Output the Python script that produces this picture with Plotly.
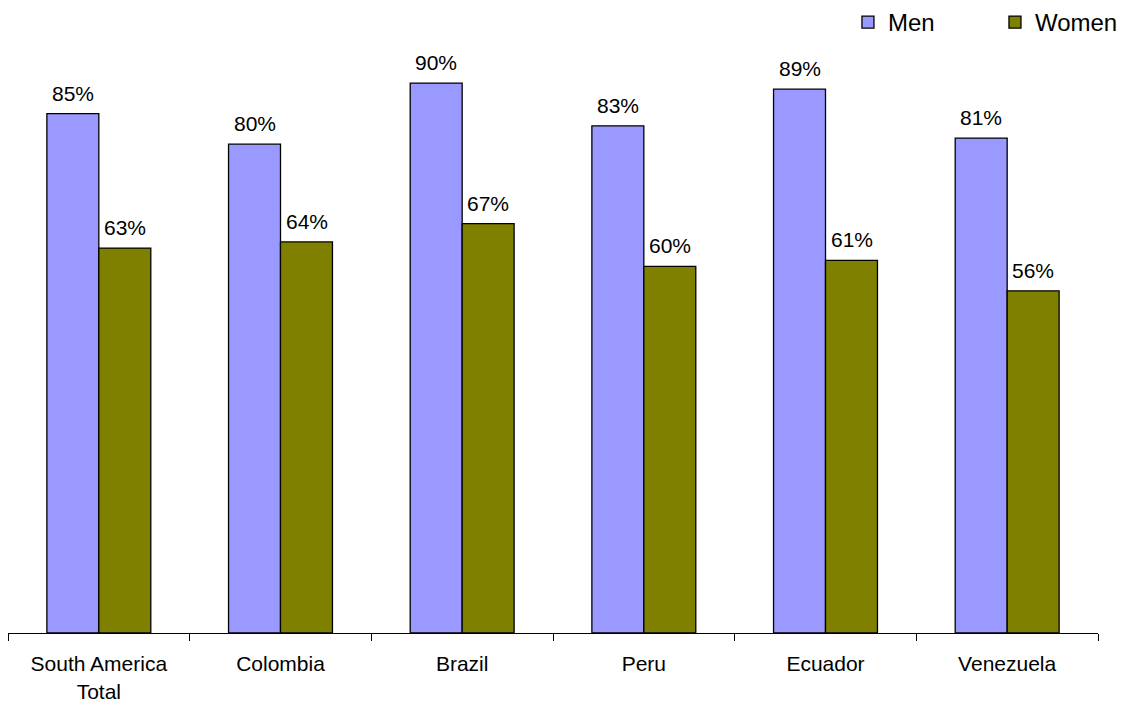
import plotly.graph_objects as go

categories = ["South America<br>Total", "Colombia", "Brazil", "Peru", "Ecuador", "Venezuela"]
men = [85, 80, 90, 83, 89, 81]
women = [63, 64, 67, 60, 61, 56]

MEN_COLOR = "#9999FF"
WOMEN_COLOR = "#808000"
FAMILY = "Liberation Sans, Arial, sans-serif"
FONT = dict(family=FAMILY, size=21, color="#000000")
LEGEND_FONT = dict(family=FAMILY, size=24, color="#000000")

fig = go.Figure()
fig.add_trace(go.Bar(name="Men", x=categories, y=men, legend="legend",
                     marker=dict(color=MEN_COLOR, line=dict(color="#000000", width=1.3))))
fig.add_trace(go.Bar(name="Women", x=categories, y=women, legend="legend2",
                     marker=dict(color=WOMEN_COLOR, line=dict(color="#000000", width=1.3))))

# value labels above each bar
for cat, m, w in zip(categories, men, women):
    fig.add_annotation(x=cat, y=m, text=f"{m}%", showarrow=False, xshift=-26, yshift=7,
                       yanchor="bottom", font=FONT)
    fig.add_annotation(x=cat, y=w, text=f"{w}%", showarrow=False, xshift=26, yshift=7,
                       yanchor="bottom", font=FONT)

legend_common = dict(orientation="h", xanchor="left", xref="container",
                     y=1.0, yanchor="top", yref="container",
                     font=LEGEND_FONT, itemwidth=30, bgcolor="rgba(0,0,0,0)")

fig.update_layout(
    width=1124, height=702,
    margin=dict(l=8, r=26, t=22, b=69, autoexpand=False),
    paper_bgcolor="white", plot_bgcolor="white",
    barmode="group", bargap=0.428, bargroupgap=0,
    font=FONT,
    showlegend=True,
    legend=dict(x=0.7544, **legend_common),
    legend2=dict(x=0.8852, **legend_common),
    xaxis=dict(showline=True, linecolor="#000000", linewidth=1, ticks="outside", tickson="boundaries",
               ticklen=7, tickcolor="#000000", showgrid=False, tickfont=FONT, ticklabelstandoff=12),
    yaxis=dict(range=[0, 100], visible=False, showgrid=False, zeroline=False),
)

fig.write_html("out.html")
